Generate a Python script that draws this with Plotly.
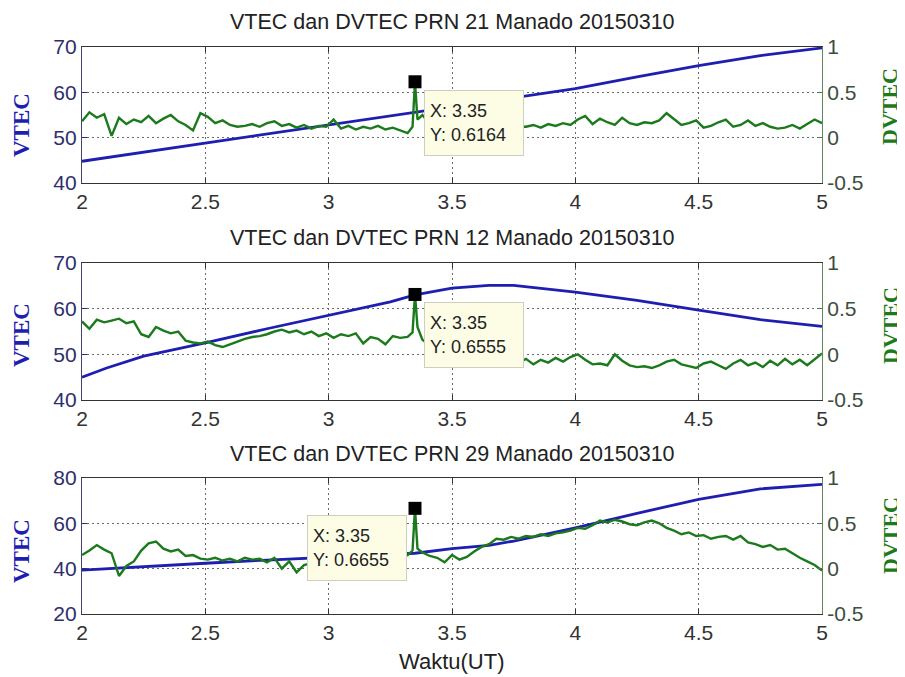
import plotly.graph_objects as go

# ---------------- data ----------------
dvtec_time = [
    2.00, 2.03, 2.06, 2.09, 2.12, 2.15, 2.18, 2.21, 2.24, 2.27,
    2.30, 2.33, 2.36, 2.39, 2.42, 2.45, 2.48, 2.51, 2.54, 2.57,
    2.60, 2.63, 2.66, 2.69, 2.72, 2.75, 2.78, 2.81, 2.84, 2.87,
    2.90, 2.93, 2.96, 2.99, 3.02, 3.05, 3.08, 3.11, 3.14, 3.17,
    3.20, 3.23, 3.26, 3.29, 3.32, 3.34, 3.35, 3.36, 3.38, 3.41,
    3.44, 3.47, 3.50, 3.53, 3.56, 3.59, 3.62, 3.65, 3.68, 3.71,
    3.74, 3.77, 3.80, 3.83, 3.86, 3.89, 3.92, 3.95, 3.98, 4.01,
    4.04, 4.07, 4.10, 4.13, 4.16, 4.19, 4.22, 4.25, 4.28, 4.31,
    4.34, 4.37, 4.40, 4.43, 4.46, 4.49, 4.52, 4.55, 4.58, 4.61,
    4.64, 4.67, 4.70, 4.73, 4.76, 4.79, 4.82, 4.85, 4.88, 4.91,
    4.94, 4.97, 5.00,
]

dvtec_prn21 = [
    0.18, 0.28, 0.22, 0.26, 0.02, 0.22, 0.15, 0.20, 0.17, 0.24,
    0.16, 0.21, 0.25, 0.18, 0.14, 0.08, 0.27, 0.23, 0.16, 0.19,
    0.14, 0.12, 0.13, 0.15, 0.12, 0.16, 0.18, 0.13, 0.15, 0.11,
    0.14, 0.10, 0.13, 0.12, 0.20, 0.10, 0.13, 0.09, 0.12, 0.10,
    0.13, 0.09, 0.11, 0.08, 0.05, 0.12, 0.6164, 0.20, 0.25, 0.15,
    0.18, 0.12, 0.16, 0.14, 0.18, 0.13, 0.15, 0.12, 0.16, 0.14,
    0.17, 0.12, 0.12, 0.14, 0.11, 0.15, 0.13, 0.16, 0.14, 0.20,
    0.24, 0.15, 0.21, 0.17, 0.14, 0.22, 0.16, 0.14, 0.17, 0.16,
    0.19, 0.27, 0.20, 0.14, 0.16, 0.19, 0.11, 0.13, 0.17, 0.20,
    0.12, 0.14, 0.19, 0.13, 0.16, 0.12, 0.10, 0.11, 0.14, 0.10,
    0.15, 0.20, 0.16,
]

dvtec_prn12 = [
    0.36, 0.28, 0.38, 0.35, 0.37, 0.39, 0.34, 0.36, 0.22, 0.19,
    0.30, 0.26, 0.23, 0.25, 0.15, 0.13, 0.12, 0.14, 0.10, 0.08,
    0.11, 0.14, 0.17, 0.19, 0.20, 0.22, 0.25, 0.27, 0.24, 0.26,
    0.22, 0.25, 0.20, 0.23, 0.18, 0.22, 0.20, 0.23, 0.12, 0.19,
    0.17, 0.11, 0.20, 0.18, 0.19, 0.24, 0.6555, 0.30, 0.16, 0.10,
    0.05, 0.00, -0.03, -0.05, -0.06, -0.08, -0.07, -0.09, -0.08, -0.10,
    -0.07, -0.09, -0.05, -0.11, -0.06, -0.09, -0.04, -0.08, -0.03, 0.00,
    -0.06, -0.11, -0.10, -0.12, 0.00, -0.07, -0.12, -0.14, -0.13, -0.15,
    -0.12, -0.08, -0.06, -0.11, -0.13, -0.15, -0.10, -0.08, -0.12, -0.16,
    -0.10, -0.06, -0.12, -0.09, -0.14, -0.07, -0.12, -0.05, -0.11, -0.06,
    -0.12, -0.05, 0.01,
]

dvtec_prn29 = [
    0.15, 0.20, 0.26, 0.21, 0.17, -0.08, 0.03, 0.08, 0.20, 0.28,
    0.30, 0.22, 0.19, 0.21, 0.14, 0.15, 0.11, 0.10, 0.12, 0.09,
    0.11, 0.08, 0.12, 0.10, 0.11, 0.07, 0.12, 0.00, 0.08, -0.04,
    0.04, 0.06, 0.08, 0.12, 0.10, 0.14, 0.11, 0.15, 0.13, 0.12,
    0.14, 0.12, 0.15, 0.13, 0.15, 0.20, 0.6655, 0.22, 0.18, 0.14,
    0.12, 0.07, 0.15, 0.10, 0.13, 0.19, 0.24, 0.27, 0.33, 0.32,
    0.35, 0.33, 0.36, 0.35, 0.38, 0.36, 0.39, 0.40, 0.42, 0.45,
    0.44, 0.48, 0.53, 0.51, 0.54, 0.52, 0.49, 0.48, 0.51, 0.53,
    0.50, 0.45, 0.42, 0.38, 0.40, 0.36, 0.37, 0.33, 0.35, 0.36,
    0.32, 0.36, 0.29, 0.27, 0.24, 0.26, 0.21, 0.22, 0.17, 0.12,
    0.08, 0.04, -0.02,
]

vtec_time_prn21 = [2.0, 2.25, 2.5, 2.75, 3.0, 3.25, 3.35, 3.5, 3.75, 4.0, 4.25, 4.5, 4.75, 5.0]
vtec_prn21 = [44.8, 46.8, 48.8, 50.8, 52.7, 54.7, 55.5, 56.8, 58.7, 60.8, 63.4, 65.9, 68.1, 69.8]

vtec_time_prn12 = [2.0, 2.1, 2.25, 2.5, 2.75, 3.0, 3.25, 3.35, 3.5, 3.65, 3.75, 4.0, 4.25, 4.5, 4.75, 5.0]
vtec_prn12 = [45.0, 47.0, 49.6, 52.5, 55.6, 58.6, 61.5, 63.0, 64.5, 65.1, 65.1, 63.6, 61.8, 59.7, 57.6, 56.1]

vtec_time_prn29 = [2.0, 2.25, 2.5, 2.75, 3.0, 3.25, 3.35, 3.5, 3.65, 3.75, 3.9, 4.0, 4.25, 4.5, 4.75, 5.0]
vtec_prn29 = [39.4, 41.0, 42.4, 43.8, 45.0, 46.2, 46.8, 48.8, 50.3, 52.2, 55.5, 58.0, 64.4, 70.6, 75.2, 77.2]

panel_titles = [
    "VTEC dan DVTEC PRN 21 Manado 20150310",
    "VTEC dan DVTEC PRN 12 Manado 20150310",
    "VTEC dan DVTEC PRN 29 Manado 20150310",
]
x_ticks = [2, 2.5, 3, 3.5, 4, 4.5, 5]
x_tick_labels = ["2", "2.5", "3", "3.5", "4", "4.5", "5"]
vtec_ranges = [[40, 70], [40, 70], [20, 80]]
vtec_ticks = [[40, 50, 60, 70], [40, 50, 60, 70], [20, 40, 60, 80]]
dvtec_range = [-0.5, 1]
dvtec_ticks = [-0.5, 0, 0.5, 1]
dvtec_tick_labels = ["-0.5", "0", "0.5", "1"]
datatip_time = 3.35
x_label = "Waktu(UT)"
left_label = "VTEC"
right_label = "DVTEC"

# ---------------- style / layout (screen pixel positions) ----------------
OFF = 8                      # page body margin
W, H = 905 - OFF, 677 - OFF  # figure fills the window right of / below the margin
PLOT_L, PLOT_R = 82, 822     # screen x of plot area
ML, MR = PLOT_L - OFF, 905 - PLOT_R
panel_px = [(47, 183), (263, 400), (478, 614)]
title_py = [22, 238, 454]
vtec_label_py = [125, 335, 551]
dvtec_label_py = [107, 326, 536]
xlabel_py = 661
tip_offsets = [(59, 41), (59, 41), (-58, 40)]


def py(screen_y):
    return 1 - (screen_y - OFF) / H


BLUE = "#1e1eb0"
GREEN = "#1b7a1b"
LEFT_TICK = "#2e2e6e"
RIGHT_TICK = "#3d4d3d"
GRID = "#6a6a6a"
GRID_DASH = "2px,3px"
SANS = "Liberation Sans, Arial, sans-serif"
SERIF = "Liberation Serif, Times New Roman, serif"
TICK_FONT = 21

vtec_series = [(vtec_time_prn21, vtec_prn21), (vtec_time_prn12, vtec_prn12), (vtec_time_prn29, vtec_prn29)]
dvtec_series = [dvtec_prn21, dvtec_prn12, dvtec_prn29]

fig = go.Figure()
annotations = []
layout = dict(
    width=W, height=H,
    margin=dict(l=ML, r=MR, t=0, b=0, autoexpand=False),
    paper_bgcolor="white", plot_bgcolor="white",
    showlegend=False,
)

for i in range(3):
    xa = "x" if i == 0 else f"x{i+1}"
    ya_l = "y" if i == 0 else f"y{2*i+1}"
    ya_r = f"y{2*i+2}"
    top, bot = panel_px[i]
    dom = [py(bot), py(top)]

    vt, vv = vtec_series[i]
    fig.add_trace(go.Scatter(x=vt, y=vv, mode="lines", xaxis=xa, yaxis=ya_l,
                             line=dict(color=BLUE, width=2.8), hoverinfo="skip"))
    dv = dvtec_series[i]
    fig.add_trace(go.Scatter(x=dvtec_time, y=dv, mode="lines", xaxis=xa, yaxis=ya_r,
                             line=dict(color=GREEN, width=2.4), hoverinfo="skip"))
    k = dvtec_time.index(datatip_time)
    tip_x, tip_y = dvtec_time[k], dv[k]
    fig.add_trace(go.Scatter(x=[tip_x], y=[tip_y], mode="markers", xaxis=xa, yaxis=ya_r,
                             marker=dict(symbol="square", size=13, color="black"),
                             hoverinfo="skip"))

    xkey = "xaxis" if i == 0 else f"xaxis{i+1}"
    ylkey = "yaxis" if i == 0 else f"yaxis{2*i+1}"
    yrkey = f"yaxis{2*i+2}"
    layout[xkey] = dict(
        domain=[0, 1], anchor=ya_l, range=[2, 5],
        tickvals=x_ticks, ticktext=x_tick_labels,
        ticks="inside", ticklen=5, tickcolor="#333", mirror="ticks",
        showline=True, linecolor="#333", linewidth=1.2,
        showgrid=True, gridcolor=GRID, griddash=GRID_DASH, gridwidth=1.2,
        tickfont=dict(family=SANS, size=TICK_FONT, color="#333"),
        zeroline=False, fixedrange=True,
    )
    layout[ylkey] = dict(
        domain=dom, anchor=xa, range=vtec_ranges[i], tickvals=vtec_ticks[i],
        ticks="inside", ticklen=5, tickcolor=LEFT_TICK,
        showline=True, linecolor="#44446a", linewidth=1.2,
        showgrid=True, gridcolor=GRID, griddash=GRID_DASH, gridwidth=1.2,
        tickfont=dict(family=SANS, size=TICK_FONT, color=LEFT_TICK),
        zeroline=False, fixedrange=True,
    )
    layout[yrkey] = dict(
        overlaying=ya_l, side="right", anchor=xa, range=dvtec_range,
        tickvals=dvtec_ticks, ticktext=dvtec_tick_labels,
        ticks="inside", ticklen=5, tickcolor="#4a7a4a",
        showline=True, linecolor="#5a8a5a", linewidth=1.2,
        showgrid=False,
        tickfont=dict(family=SANS, size=TICK_FONT, color=RIGHT_TICK),
        zeroline=False, fixedrange=True,
    )

    # panel title
    annotations.append(dict(text=panel_titles[i], xref="paper", yref="paper",
                            x=0.5, y=py(title_py[i]), xanchor="center", yanchor="middle",
                            showarrow=False, font=dict(family=SANS, size=21.5, color="#222")))
    # axis labels
    annotations.append(dict(text=f"<b>{left_label}</b>", xref="paper", yref="paper",
                            x=0, xshift=-61, y=py(vtec_label_py[i]),
                            xanchor="center", yanchor="middle", textangle=-90, showarrow=False,
                            font=dict(family=SERIF, size=23, color=BLUE)))
    annotations.append(dict(text=f"<b>{right_label}</b>", xref="paper", yref="paper",
                            x=1, xshift=68, y=py(dvtec_label_py[i]),
                            xanchor="center", yanchor="middle", textangle=-90, showarrow=False,
                            font=dict(family=SERIF, size=22, color=GREEN)))
    # datatip box
    ax, ay = tip_offsets[i]
    annotations.append(dict(
        text=f"X: {tip_x:g}<br>Y: {tip_y:.4f}", xref=xa, yref=ya_r,
        x=tip_x, y=tip_y, showarrow=True, arrowcolor="rgba(0,0,0,0)", arrowwidth=0.1,
        ax=ax, ay=ay, axref="pixel", ayref="pixel",
        xanchor="center", yanchor="middle", align="left",
        width=88, height=54, borderpad=5,
        bgcolor="#fdfde6", bordercolor="#cfcfbf", borderwidth=1,
        font=dict(family=SANS, size=18, color="#222"),
    ))

annotations.append(dict(text=x_label, xref="paper", yref="paper", x=0.5, y=py(xlabel_py),
                        xanchor="center", yanchor="middle", showarrow=False,
                        font=dict(family=SANS, size=22, color="#222")))

layout["annotations"] = annotations
fig.update_layout(**layout)
fig.write_html("out.html")
